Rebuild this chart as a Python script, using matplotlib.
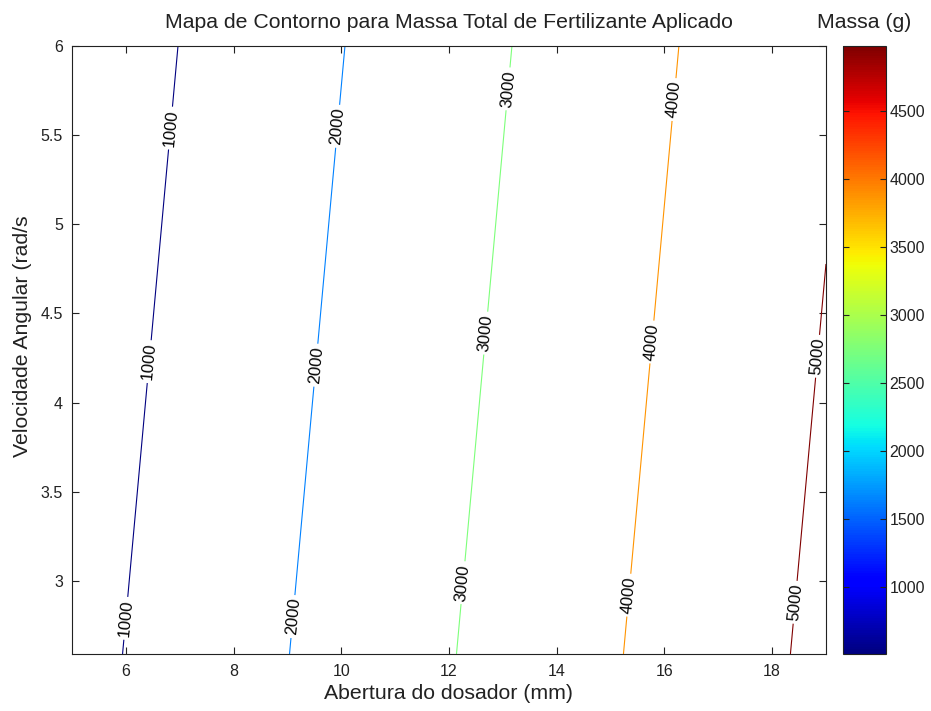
import numpy as np
import matplotlib
matplotlib.use('Agg')
import matplotlib.pyplot as plt
from matplotlib import cm, colors

plt.rcParams['font.family'] = ['Liberation Sans', 'DejaVu Sans']

# grade (cantos do dominio)
abertura = [5, 19]              # mm
velocidade = [2.59, 6]          # rad/s
massa = [[697, 5213],
         [365, 4881]]           # g, linhas = velocidade
niveis = [1000, 2000, 3000, 4000, 5000]
faixa_barra = [505, 4980]
ticks_barra = [1000, 1500, 2000, 2500, 3000, 3500, 4000, 4500]

# altura (rad/s) onde cada rotulo aparece
y_rotulos = {1000: [2.79, 4.23, 5.54],
             2000: [2.80, 4.21, 5.55],
             3000: [2.99, 4.39, 5.76],
             4000: [2.92, 4.34, 5.70],
             5000: [2.88, 4.26]}

X, Y = np.meshgrid(abertura, velocidade)
Z = np.array(massa, dtype=float)

fig = plt.figure(figsize=(9.31, 7.11), dpi=100)
ax = fig.add_axes([0.0773, 0.0802, 0.8099, 0.855])

cs = ax.contour(X, Y, Z, levels=niveis, cmap='jet', vmin=niveis[0], vmax=niveis[-1],
                linewidths=0.8)

pontos = []
for i, nivel in enumerate(niveis):
    seg = np.vstack(cs.allsegs[i])
    ordem = np.argsort(seg[:, 1])
    for yy in y_rotulos[nivel]:
        xx = np.interp(yy, seg[ordem, 1], seg[ordem, 0])
        pontos.append((xx, yy))

ax.clabel(cs, manual=pontos, inline=True, inline_spacing=3, fmt='%d', colors='k', fontsize=12)

ax.set_xlim(5, 19)
ax.set_ylim(2.59, 6)
ax.set_xticks([6, 8, 10, 12, 14, 16, 18])
ax.set_yticks([3, 3.5, 4, 4.5, 5, 5.5, 6])
ax.set_yticklabels(['3', '3.5', '4', '4.5', '5', '5.5', '6'])
ax.tick_params(direction='in', top=True, right=True, length=5, labelsize=11.5, colors='#222222')
ax.tick_params(axis='x', pad=7.5)
ax.tick_params(axis='y', pad=6.5)
for s in ax.spines.values():
    s.set_color('#222222')
ax.set_xlabel('Abertura do dosador (mm)', fontsize=15.3, color='#222222', labelpad=3)
ax.set_ylabel('Velocidade Angular (rad/s', fontsize=15.3, color='#222222')
ax.yaxis.set_label_coords(-0.053, 0.523)
ax.set_title('Mapa de Contorno para Massa Total de Fertilizante Aplicado', fontsize=15.3,
             color='#222222', pad=13)

cax = fig.add_axes([0.9055, 0.0802, 0.0462, 0.855])
sm = cm.ScalarMappable(norm=colors.Normalize(*faixa_barra), cmap='jet')
cb = fig.colorbar(sm, cax=cax, ticks=ticks_barra)
cb.outline.set_edgecolor('#222222')
cax.tick_params(direction='in', left=True, right=True, length=4, pad=2.5, labelsize=11.5,
                colors='#222222')
cax.set_title('Massa (g)', fontsize=15.3, color='#222222', pad=13)

fig.savefig('out.png', dpi=100, facecolor='white')
